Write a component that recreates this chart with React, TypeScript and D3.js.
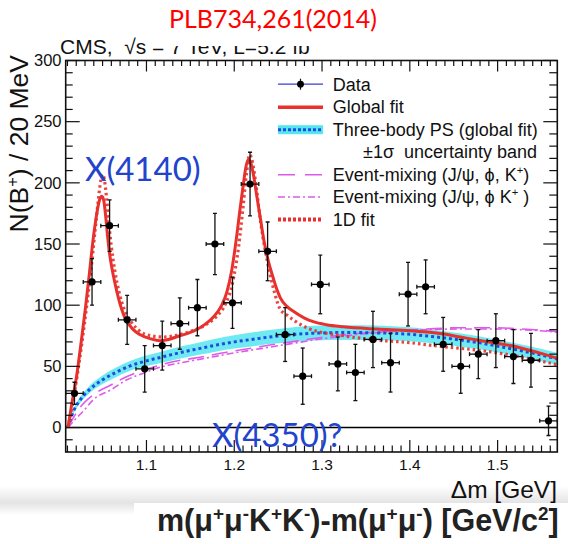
import React from 'react';
import * as d3 from 'd3';

// ---------------- data ----------------
const binCenters = [
  1.018, 1.038, 1.058, 1.078, 1.098, 1.118, 1.138, 1.158, 1.178, 1.198,
  1.218, 1.238, 1.258, 1.278, 1.298, 1.318, 1.338, 1.358, 1.378, 1.398,
  1.418, 1.438, 1.458, 1.478, 1.498, 1.518, 1.538, 1.558,
];
const counts = [
  28, 119, 165, 88, 48, 67, 85, 98, 150, 102,
  199, 144, 76, 42, 117, 52, 45, 72, 53, 109,
  115, 68, 50, 60, 71, 58, 55, 5.5,
];
const countErrors = [
  9, 19, 21, 20, 19, 20, 21, 23, 25, 21,
  26, 24, 22, 23, 24, 22, 23, 23, 24, 26,
  22, 22, 22, 20, 22, 22, 22, 12,
];

const globalFit: [number, number][] = [
  [1.0106, 0], [1.0144, 17], [1.0208, 44], [1.026, 72], [1.0307, 99], [1.035, 126],
  [1.0391, 153], [1.043, 173], [1.0465, 186], [1.0493, 189], [1.0515, 185], [1.0535, 173],
  [1.0555, 158], [1.058, 142], [1.061, 129], [1.0638, 119], [1.068, 106], [1.0752, 90],
  [1.085, 80], [1.0924, 76], [1.105, 72.5], [1.1152, 71], [1.125, 72], [1.1372, 74.8],
  [1.147, 77], [1.157, 80], [1.167, 84.5], [1.1771, 91], [1.185, 99], [1.1913, 110],
  [1.197, 128], [1.2027, 156], [1.2065, 178], [1.2102, 198], [1.213, 212], [1.216, 219],
  [1.219, 216], [1.2225, 204], [1.2255, 190], [1.23, 170], [1.234, 152], [1.2385, 137],
  [1.2445, 122], [1.2485, 113], [1.2525, 106], [1.26, 99], [1.2673, 95], [1.28, 89.5],
  [1.2901, 86.5], [1.305, 84], [1.3243, 82.3], [1.3624, 80.5], [1.4004, 79.2], [1.42, 78],
  [1.4384, 76.4], [1.4575, 74], [1.4765, 71.5], [1.4955, 69.2], [1.5145, 67], [1.533, 63.8],
  [1.5525, 60], [1.5685, 56.5],
];

const fit1D: [number, number][] = [
  [1.0106, 0], [1.015, 16], [1.021, 42], [1.027, 72], [1.032, 100], [1.037, 130],
  [1.041, 158], [1.045, 185], [1.048, 202], [1.05, 207], [1.052, 203], [1.0545, 188],
  [1.057, 168], [1.06, 148], [1.064, 128], [1.069, 110], [1.075, 96], [1.083, 86],
  [1.092, 79], [1.105, 75], [1.12, 74], [1.135, 75.5], [1.15, 78.5], [1.165, 83],
  [1.18, 91], [1.19, 101], [1.198, 118], [1.205, 148], [1.21, 180], [1.214, 208],
  [1.2175, 223], [1.221, 216], [1.225, 197], [1.23, 168], [1.235, 146], [1.24, 128],
  [1.246, 110], [1.2521, 97], [1.26, 92], [1.2673, 88], [1.2844, 81], [1.3243, 75],
  [1.3624, 71.5], [1.4004, 69.3], [1.4384, 66], [1.4765, 63.3], [1.5145, 59.3],
  [1.5525, 53.8], [1.5685, 51.3],
];

const threeBodyPS: [number, number][] = [
  [1.0106, 0], [1.014, 8], [1.018, 15], [1.025, 23], [1.035, 31], [1.05, 39],
  [1.065, 45], [1.08, 50], [1.1, 54.5], [1.12, 58], [1.14, 61.5], [1.16, 64.5],
  [1.18, 67.5], [1.2, 70], [1.22, 72], [1.24, 74], [1.26, 75.5], [1.28, 76.7],
  [1.3, 77.3], [1.32, 77.6], [1.34, 77.6], [1.36, 77.4], [1.38, 77], [1.4, 76.2],
  [1.42, 74.8], [1.44, 73.2], [1.46, 71.3], [1.48, 69.2], [1.5, 66.5], [1.52, 63.8],
  [1.54, 60.8], [1.56, 57.5], [1.5685, 56],
];
const threeBodyBand = [
  0.5, 1.5, 2, 2.5, 3, 3.5,
  3.8, 4, 4.3, 4.6, 4.9, 5.1,
  5.3, 5.5, 5.7, 5.8, 5.9, 6,
  6, 6, 6, 5.9, 5.8, 5.7,
  5.6, 5.5, 5.4, 5.3, 5.2, 5.1,
  5, 5, 5,
];

const eventMixA: [number, number][] = [
  [1.0106, 0], [1.0163, 7.5], [1.025, 17], [1.0391, 26.6], [1.06, 35], [1.0772, 41.5],
  [1.095, 46.5], [1.1152, 51], [1.136, 54.6], [1.1532, 56.5], [1.1913, 61.5], [1.2293, 66],
  [1.2483, 68.3], [1.2673, 70.2], [1.3054, 74.2], [1.3434, 77], [1.3814, 78.9], [1.4195, 80.5],
  [1.4575, 81.6], [1.4955, 81.6], [1.5336, 80.3], [1.5685, 78.5],
];
const eventMixB: [number, number][] = [
  [1.0106, 0], [1.018, 6], [1.03, 15], [1.0391, 22.5], [1.06, 31], [1.0772, 38.8],
  [1.095, 44], [1.1152, 49.2], [1.14, 53], [1.17, 57], [1.2, 61], [1.23, 64.5],
  [1.26, 68], [1.3, 72.5], [1.34, 76], [1.38, 78.5], [1.42, 80], [1.46, 80.5],
  [1.5, 80.5], [1.54, 79.5], [1.5685, 78],
];

const xMajorTicks = [1.1, 1.2, 1.3, 1.4, 1.5];
const xTickLabels = ['1.1', '1.2', '1.3', '1.4', '1.5'];
const yMajorTicks = [0, 50, 100, 150, 200, 250, 300];
const yTickLabels = ['0', '50', '100', '150', '200', '250', '300'];

// ---------------- styles ----------------
const RED = '#e8302c';
const BLUE = '#1e4fdc';
const CYAN = '#56e6f0';
const MAGENTA = '#de5ae8';
const ANNOT = '#2243cc';

const FRAME = { left: 65.7, right: 557.3, top: 60.5, bottom: 452 };

export default function App() {
  const x = d3.scaleLinear().domain([1.008, 1.568]).range([FRAME.left, FRAME.right]);
  const y = d3.scaleLinear().domain([-20, 300]).range([FRAME.bottom, FRAME.top]);

  const line = d3
    .line<[number, number]>()
    .x((d) => x(d[0]))
    .y((d) => y(d[1]))
    .curve(d3.curveMonotoneX);

  const band = d3
    .area<[number, number]>()
    .x((d) => x(d[0]))
    .y0((d, i) => y(Math.max(0, d[1] - threeBodyBand[i])))
    .y1((d, i) => y(d[1] + threeBodyBand[i]))
    .curve(d3.curveMonotoneX);

  const xMinor = d3.range(101, 157).map((v) => v / 100).filter((v) => Math.abs(v * 10 - Math.round(v * 10)) > 1e-6);
  const yMinor = d3.range(-10, 300, 10).filter((v) => v % 50 !== 0);

  const halfBin = x(1.01) - x(1.0);
  const font = "'Liberation Sans', Arial, Helvetica, sans-serif";
  const sup = { fontSize: '0.62em' } as React.CSSProperties;

  const legX0 = 278;
  const legX1 = 323;
  const legText = 332.7;
  const legBase = [90.7, 113.2, 135.7, 158, 180.7, 203, 225.5];

  return (
    <svg
      width={568}
      height={544}
      style={{ position: 'absolute', left: 0, top: 0, background: '#fff' }}
      fontFamily={font}
    >
      <defs>
        <linearGradient id="shade" x1="0" y1="0" x2="0" y2="1">
          <stop offset="0" stopColor="#ffffff" />
          <stop offset="1" stopColor="#e4e4e4" />
        </linearGradient>
        <linearGradient id="shade2" x1="0" y1="0" x2="0" y2="1">
          <stop offset="0" stopColor="#e4e4e4" />
          <stop offset="1" stopColor="#ffffff" />
        </linearGradient>
        <clipPath id="plotClip">
          <rect x={FRAME.left} y={FRAME.top} width={FRAME.right - FRAME.left} height={FRAME.bottom - FRAME.top} />
        </clipPath>
      </defs>
      <rect x={0} y={0} width={568} height={544} fill="#fff" />

      {/* bottom shading */}
      <rect x={0} y={486} width={568} height={17} fill="url(#shade)" />
      <rect x={0} y={503} width={134} height={12} fill="url(#shade2)" />

      {/* CMS label, partially hidden */}
      <text x={60} y={53.5} fontSize={21} fill="#111">
        CMS,&#160;&#160;√s = 7 TeV, L=5.2 fb
        <tspan dy={-9} style={sup}>-1</tspan>
      </text>
      <rect x={149} y={20} width={250} height={26} fill="#fff" />

      {/* Title */}
      <text x={273} y={28} fontSize={25} fill="#ff0000" textAnchor="middle" fontFamily="Lato, 'Open Sans', sans-serif">
        PLB734,261(2014)
      </text>

      {/* band + curves */}
      <g clipPath="url(#plotClip)">
        <path d={band(threeBodyPS) || ''} fill={CYAN} opacity={0.85} />
        <line x1={FRAME.left} x2={FRAME.right} y1={y(0)} y2={y(0)} stroke="#000" strokeWidth={1.6} />
        <path d={line(eventMixB) || ''} fill="none" stroke={MAGENTA} strokeWidth={1.6} strokeDasharray="7,3,2,3" />
        <path d={line(eventMixA) || ''} fill="none" stroke={MAGENTA} strokeWidth={1.6} strokeDasharray="16,8" />
        <path d={line(threeBodyPS) || ''} fill="none" stroke={BLUE} strokeWidth={3} strokeDasharray="3,3" />
        <path d={line(fit1D) || ''} fill="none" stroke={RED} strokeWidth={3.2} strokeDasharray="2.5,3" opacity={0.9} />
        <path d={line(globalFit) || ''} fill="none" stroke={RED} strokeWidth={3} />

        {/* data points */}
        {binCenters.map((c, i) => {
          const cx = x(c);
          const cy = y(counts[i]);
          const yt = y(counts[i] + countErrors[i]);
          const yb = y(counts[i] - countErrors[i]);
          return (
            <g key={i} stroke="#111" strokeWidth={1.3}>
              <line x1={cx - halfBin} x2={cx + halfBin} y1={cy} y2={cy} />
              <line x1={cx} x2={cx} y1={yt} y2={yb} />
              <line x1={cx - halfBin} x2={cx - halfBin} y1={cy - 2} y2={cy + 2} />
              <line x1={cx + halfBin} x2={cx + halfBin} y1={cy - 2} y2={cy + 2} />
              <line x1={cx - 2} x2={cx + 2} y1={yt} y2={yt} />
              <line x1={cx - 2} x2={cx + 2} y1={yb} y2={yb} />
              <circle cx={cx} cy={cy} r={3.6} fill="#000" stroke="none" />
            </g>
          );
        })}
      </g>

      {/* frame */}
      <rect
        x={FRAME.left}
        y={FRAME.top}
        width={FRAME.right - FRAME.left}
        height={FRAME.bottom - FRAME.top}
        fill="none"
        stroke="#111"
        strokeWidth={1.6}
      />

      {/* ticks */}
      <g stroke="#111" strokeWidth={1.2}>
        {xMajorTicks.map((t) => (
          <g key={'xM' + t}>
            <line x1={x(t)} x2={x(t)} y1={FRAME.bottom} y2={FRAME.bottom - 12} />
            <line x1={x(t)} x2={x(t)} y1={FRAME.top} y2={FRAME.top + 11} />
          </g>
        ))}
        {xMinor.map((t) => (
          <g key={'xm' + t}>
            <line x1={x(t)} x2={x(t)} y1={FRAME.bottom} y2={FRAME.bottom - 6.5} />
            <line x1={x(t)} x2={x(t)} y1={FRAME.top} y2={FRAME.top + 5.5} />
          </g>
        ))}
        {yMajorTicks.map((t) => (
          <g key={'yM' + t}>
            <line x1={FRAME.left} x2={FRAME.left + 14} y1={y(t)} y2={y(t)} />
            <line x1={FRAME.right} x2={FRAME.right - 14} y1={y(t)} y2={y(t)} />
          </g>
        ))}
        {yMinor.map((t) => (
          <g key={'ym' + t}>
            <line x1={FRAME.left} x2={FRAME.left + 7} y1={y(t)} y2={y(t)} />
            <line x1={FRAME.right} x2={FRAME.right - 8} y1={y(t)} y2={y(t)} />
          </g>
        ))}
      </g>

      {/* tick labels */}
      {xMajorTicks.map((t, i) => (
        <text key={'xl' + t} x={x(t)} y={470} fontSize={15.5} textAnchor="middle" fill="#111">
          {xTickLabels[i]}
        </text>
      ))}
      {yMajorTicks.map((t, i) => (
        <text key={'yl' + t} x={61.5} y={y(t) + 5.7} fontSize={16.5} textAnchor="end" fill="#111">
          {yTickLabels[i]}
        </text>
      ))}

      {/* axis titles */}
      <text transform="translate(28,55) rotate(-90)" fontSize={26.5} textAnchor="end" fill="#111">
        N(B<tspan dy={-10} style={sup}>+</tspan>
        <tspan dy={10}>) / 20 MeV</tspan>
      </text>
      <text x={557} y={498} fontSize={24.5} textAnchor="end" fill="#111">
        Δm [GeV]
      </text>

      {/* bottom white box and bottom label */}
      <rect x={134} y={503} width={434} height={41} fill="#fff" />
      <text x={157} y={531} fontSize={30.5} fontWeight="bold" fill="#222">
        m(μ<tspan dy={-11} style={sup}>+</tspan>
        <tspan dy={11}>μ</tspan>
        <tspan dy={-11} style={sup}>-</tspan>
        <tspan dy={11}>K</tspan>
        <tspan dy={-11} style={sup}>+</tspan>
        <tspan dy={11}>K</tspan>
        <tspan dy={-11} style={sup}>-</tspan>
        <tspan dy={11}>)-m(μ</tspan>
        <tspan dy={-11} style={sup}>+</tspan>
        <tspan dy={11}>μ</tspan>
        <tspan dy={-11} style={sup}>-</tspan>
        <tspan dy={11}>) [GeV/c</tspan>
        <tspan dy={-11} style={sup}>2</tspan>
        <tspan dy={11}>]</tspan>
      </text>

      {/* legend */}
      <g>
        <line x1={legX0} x2={legX1} y1={legBase[0] - 6.5} y2={legBase[0] - 6.5} stroke="#3b3bd0" strokeWidth={1.2} />
        <line x1={(legX0 + legX1) / 2} x2={(legX0 + legX1) / 2} y1={legBase[0] - 12} y2={legBase[0] - 1} stroke="#111" strokeWidth={1.2} />
        <circle cx={(legX0 + legX1) / 2} cy={legBase[0] - 6.5} r={3.4} fill="#000" />
        <text x={legText} y={legBase[0]} fontSize={18} fill="#111">Data</text>

        <line x1={legX0} x2={legX1} y1={legBase[1] - 6} y2={legBase[1] - 6} stroke={RED} strokeWidth={3.5} />
        <text x={legText} y={legBase[1]} fontSize={18} fill="#111">Global fit</text>

        <rect x={legX0} y={legBase[2] - 10.5} width={legX1 - legX0} height={9} fill={CYAN} />
        <line x1={legX0} x2={legX1} y1={legBase[2] - 6} y2={legBase[2] - 6} stroke={BLUE} strokeWidth={3} strokeDasharray="3,2" />
        <text x={legText} y={legBase[2]} fontSize={18} fill="#111">Three-body PS (global fit)</text>
        <text x={363} y={legBase[3]} fontSize={18} fill="#111">±1σ&#160; uncertainty band</text>

        <line x1={legX0} x2={legX1} y1={legBase[4] - 6} y2={legBase[4] - 6} stroke={MAGENTA} strokeWidth={1.6} strokeDasharray="17,10" />
        <text x={legText} y={legBase[4]} fontSize={18} fill="#111">
          Event-mixing (J/ψ, ϕ, K<tspan dy={-7} style={sup}>+</tspan>
          <tspan dy={7}>)</tspan>
        </text>

        <line x1={legX0} x2={legX1} y1={legBase[5] - 6} y2={legBase[5] - 6} stroke={MAGENTA} strokeWidth={1.6} strokeDasharray="7,3,2,3" />
        <text x={legText} y={legBase[5]} fontSize={18} fill="#111">
          Event-mixing (J/ψ, ϕ K<tspan dy={-7} style={sup}>+</tspan>
          <tspan dy={7}>&#160;)</tspan>
        </text>

        <line x1={legX0} x2={legX1} y1={legBase[6] - 6} y2={legBase[6] - 6} stroke={RED} strokeWidth={4} strokeDasharray="3,2" />
        <text x={legText} y={legBase[6]} fontSize={18} fill="#111">1D fit</text>
      </g>

      {/* annotations */}
      <text x={85} y={181} fontSize={33} fill={ANNOT} fontFamily="Lato, 'Open Sans', sans-serif">
        X(4140)
      </text>
      <text x={212} y={447} fontSize={33} fill={ANNOT} fontFamily="Lato, 'Open Sans', sans-serif">
        X(4350)?
      </text>
    </svg>
  );
}
